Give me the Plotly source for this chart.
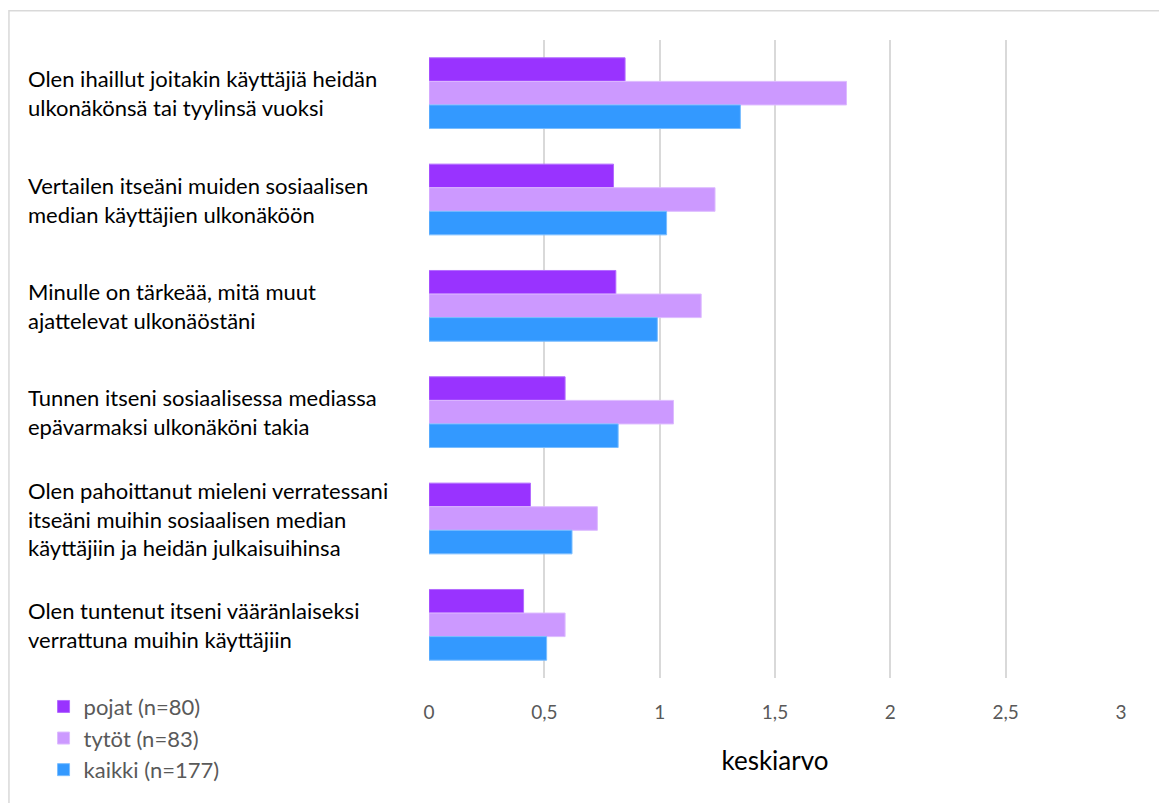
import plotly.graph_objects as go

# Survey statements (category axis) and mean scores per respondent group
statements = [
    "Olen ihaillut joitakin käyttäjiä heidän<br>ulkonäkönsä tai tyylinsä vuoksi",
    "Vertailen itseäni muiden sosiaalisen<br>median käyttäjien ulkonäköön",
    "Minulle on tärkeää, mitä muut<br>ajattelevat ulkonäöstäni",
    "Tunnen itseni sosiaalisessa mediassa<br>epävarmaksi ulkonäköni takia",
    "Olen pahoittanut mieleni verratessani<br>itseäni muihin sosiaalisen median<br>käyttäjiin ja heidän julkaisuihinsa",
    "Olen tuntenut itseni vääränlaiseksi<br>verrattuna muihin käyttäjiin",
]
pojat = [0.85, 0.80, 0.81, 0.59, 0.44, 0.41]
tytot = [1.81, 1.24, 1.18, 1.06, 0.73, 0.59]
kaikki = [1.35, 1.03, 0.99, 0.82, 0.62, 0.51]

series_names = ["pojat (n=80)", "tytöt (n=83)", "kaikki (n=177)"]
series_values = [pojat, tytot, kaikki]
fill_colors = ["#9933FF", "#CC99FF", "#3399FF"]
edge_colors = ["#B36BFF", "#DDBBFF", "#7ABDFF"]

x_ticks = [0, 0.5, 1, 1.5, 2, 2.5, 3]
x_tick_text = ["0", "0,5", "1", "1,5", "2", "2,5", "3"]

FONT = "Lato, 'Open Sans', sans-serif"

fig = go.Figure()
for i, (name, vals) in enumerate(zip(series_names, series_values)):
    fig.add_trace(go.Bar(
        y=statements,
        x=vals,
        name=name,
        orientation="h",
        legendgroup=str(i),
        marker=dict(color=fill_colors[i], line=dict(color=edge_colors[i], width=1)),
    ))

# Left-aligned category labels
for s in statements:
    fig.add_annotation(
        x=-0.582, xref="paper", y=s, yref="y",
        text=s, showarrow=False, xanchor="left", yanchor="middle", align="left",
        font=dict(family=FONT, size=22, color="#000000"),
    )

# Light outer frame of the chart area
fig.add_shape(type="rect", xref="paper", yref="paper",
              x0=-0.607, x1=1.2, y0=-0.4, y1=1.046,
              line=dict(color="#D9D9D9", width=1.5), fillcolor="rgba(0,0,0,0)",
              layer="below")

fig.update_layout(
    width=1159, height=803,
    margin=dict(l=429, r=38, t=40, b=122),
    paper_bgcolor="white", plot_bgcolor="white",
    barmode="group", bargap=0.335, bargroupgap=0,
    font=dict(family=FONT, color="#595959"),
    showlegend=True,
    legend=dict(
        x=-0.557, xanchor="left", y=-0.012, yanchor="top",
        orientation="v", traceorder="normal", tracegroupgap=4,
        font=dict(family=FONT, size=22, color="#595959"),
        bgcolor="rgba(0,0,0,0)",
    ),
    xaxis=dict(
        range=[0, 3], tickvals=x_ticks, ticktext=x_tick_text,
        showgrid=True, gridcolor="#D9D9D9", gridwidth=1.6,
        zeroline=False, showline=False, ticks="",
        automargin=False,
        ticklabelstandoff=21,
        tickfont=dict(family=FONT, size=19, color="#595959"),
        title=dict(text="keskiarvo", font=dict(family=FONT, size=26, color="#000000"), standoff=29),
    ),
    yaxis=dict(
        autorange="reversed", showticklabels=False, showgrid=False,
        zeroline=False, showline=False, ticks="", automargin=False,
    ),
)

fig.write_html("out.html")
